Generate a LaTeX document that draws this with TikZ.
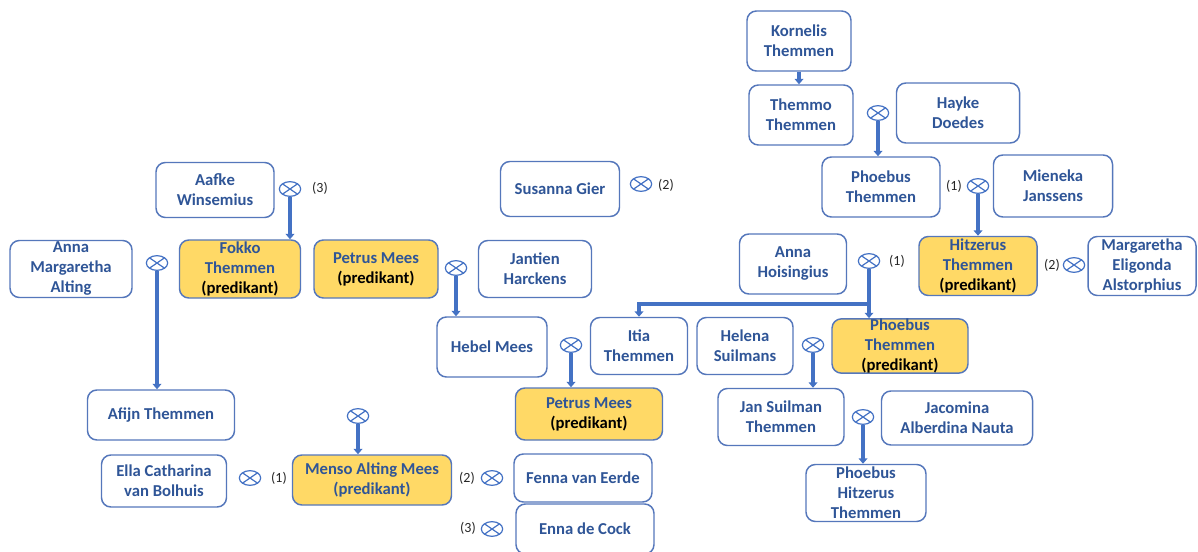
\documentclass[tikz,border=0pt]{standalone}
\usepackage{fontspec}
\setmainfont{Carlito}
\usetikzlibrary{arrows.meta,shapes.geometric}
\definecolor{tb}{HTML}{2F5597}
\definecolor{bd}{HTML}{5577BB}
\definecolor{ar}{HTML}{4472C4}
\definecolor{yl}{HTML}{FFD966}
\tikzset{
  person/.style 2 args={draw=bd, line width=1.1pt, rounded corners=7pt, fill=white,
    minimum width=#1*0.75pt, minimum height=#2*0.75pt, inner sep=0pt, align=center,
    text=tb, font=\bfseries\fontsize{12.5}{15}\selectfont},
  pred/.style 2 args={person={#1}{#2}, fill=yl},
  ox/.style={draw=ar, line width=0.9pt, ellipse, minimum width=16pt, minimum height=11pt, inner sep=0pt,
    path picture={\draw[ar, line width=0.9pt] (path picture bounding box.north west) -- (path picture bounding box.south east)
      (path picture bounding box.south west) -- (path picture bounding box.north east);}},
  lbl/.style={inner sep=0pt, text=black!85, font=\fontsize{10.5}{12}\selectfont},
  arr/.style={draw=ar, line width=2.3pt, -{Triangle[length=4pt,width=6.5pt]}},
  ln/.style={draw=ar, line width=2.3pt}
}
\newcommand{\pk}{\textcolor{black}{(predikant)}}
\begin{document}
\begin{tikzpicture}[x=0.75pt,y=-0.75pt]
\useasboundingbox (0,0) rectangle (1198,552);
% right tree
\node[person={104}{60}] (kt) at (799,41) {Kornelis\\Themmen};
\node[person={104}{60}] (tt) at (801,115) {Themmo\\Themmen};
\node[person={123}{60}] (hd) at (958,113) {Hayke\\Doedes};
\node[ox] (ox1) at (878,113) {};
\node[person={118}{60}] (pt) at (881,187) {Phoebus\\Themmen};
\node[lbl] (l1) at (954,186) {(1)};
\node[ox] (ox2) at (978,186) {};
\node[person={119}{62}] (mj) at (1053,186) {Mieneka\\Janssens};
\node[pred={118}{59}] (ht) at (978,266) {Hitzerus\\Themmen\\\pk};
\node[lbl] (l2) at (1052,265) {(2)};
\node[ox] (ox3) at (1074,265) {};
\node[person={108}{59}] (mea) at (1142,266) {Margaretha\\Eligonda\\Alstorphius};
\node[person={107}{60}] (ah) at (793,264) {Anna\\Hoisingius};
\node[ox] (ox4) at (869,261) {};
\node[lbl] (l3) at (897,261) {(1)};
\coordinate (j) at (869,304);
\node[person={97}{57}] (it) at (639,346) {Itia\\Themmen};
\node[person={96}{57}] (hs) at (745,346) {Helena\\Suilmans};
\node[pred={136}{54}] (pp) at (900,346) {Phoebus\\Themmen\\\pk};
\node[ox] (ox5) at (813,345) {};
\node[person={126}{57}] (js) at (781,417) {Jan Suilman\\Themmen};
\node[ox] (ox6) at (863,417) {};
\node[person={151}{54}] (jn) at (957,418) {Jacomina\\Alberdina Nauta};
\node[person={120}{57}] (ph) at (866,493) {Phoebus\\Hitzerus\\Themmen};
% middle / left
\node[person={118}{55}] (aw) at (215,190) {Aafke\\Winsemius};
\node[ox] (ox7) at (290,189) {};
\node[lbl] (l4) at (320,188) {(3)};
\node[pred={121}{58}] (fk) at (240,269) {Fokko\\Themmen\\\pk};
\node[pred={124}{58}] (pm) at (376,269) {Petrus Mees\\\pk};
\node[ox] (ox8) at (456,268) {};
\node[person={113}{57}] (jh) at (535,269) {Jantien\\Harckens};
\node[person={119}{55}] (sg) at (560,189) {Susanna Gier};
\node[ox] (ox9) at (641,184) {};
\node[lbl] (l5) at (666,185) {(2)};
\node[person={122}{57}] (ama) at (71,269) {Anna\\Margaretha\\Alting};
\node[ox] (ox10) at (157,263) {};
\node[person={147}{50}] (af) at (161,415) {Afijn Themmen};
\node[person={125}{52}] (ec) at (164,481) {Ella Catharina\\van Bolhuis};
\node[ox] (ox11) at (250,478) {};
\node[lbl] (l6) at (279,478) {(1)};
\node[ox] (ox12) at (358,416) {};
\node[pred={159}{50}] (ma) at (372,480) {Menso Alting Mees\\(predikant)};
\node[lbl] (l7) at (467,478) {(2)};
\node[ox] (ox13) at (492,478) {};
\node[person={138}{48}] (fe) at (583,478) {Fenna van Eerde};
\node[lbl] (l8) at (468,528) {(3)};
\node[ox] (ox14) at (492,529) {};
\node[person={138}{50}] (edc) at (585,529) {Enna de Cock};
\node[person={110}{60}] (hm) at (492,347) {Hebel Mees};
\node[ox] (ox15) at (571,345) {};
\node[pred={147}{52}] (pm2) at (589,414) {Petrus Mees\\\pk};
% connectors
\draw[arr] (kt.south) -- (kt.south |- tt.north);
\draw[arr] (ox1.south) -- (ox1.south |- pt.north);
\draw[arr] (ox2.south) -- (ox2.south |- ht.north);
\draw[ln] (ox4.south) -- (j);
\draw[arr] (j) -- (j |- pp.north);
\draw[arr] (j) -| (it.north);
\draw[arr] (ox5.south) -- (ox5.south |- js.north);
\draw[arr] (ox6.south) -- (ox6.south |- ph.north);
\draw[arr] (ox7.south) -- (ox7.south |- fk.north);
\draw[arr] (ox8.south) -- (ox8.south |- hm.north);
\draw[arr] (ox10.south) -- (ox10.south |- af.north);
\draw[arr] (ox12.south) -- (ox12.south |- ma.north);
\draw[arr] (ox15.south) -- (ox15.south |- pm2.north);
\end{tikzpicture}
\end{document}
